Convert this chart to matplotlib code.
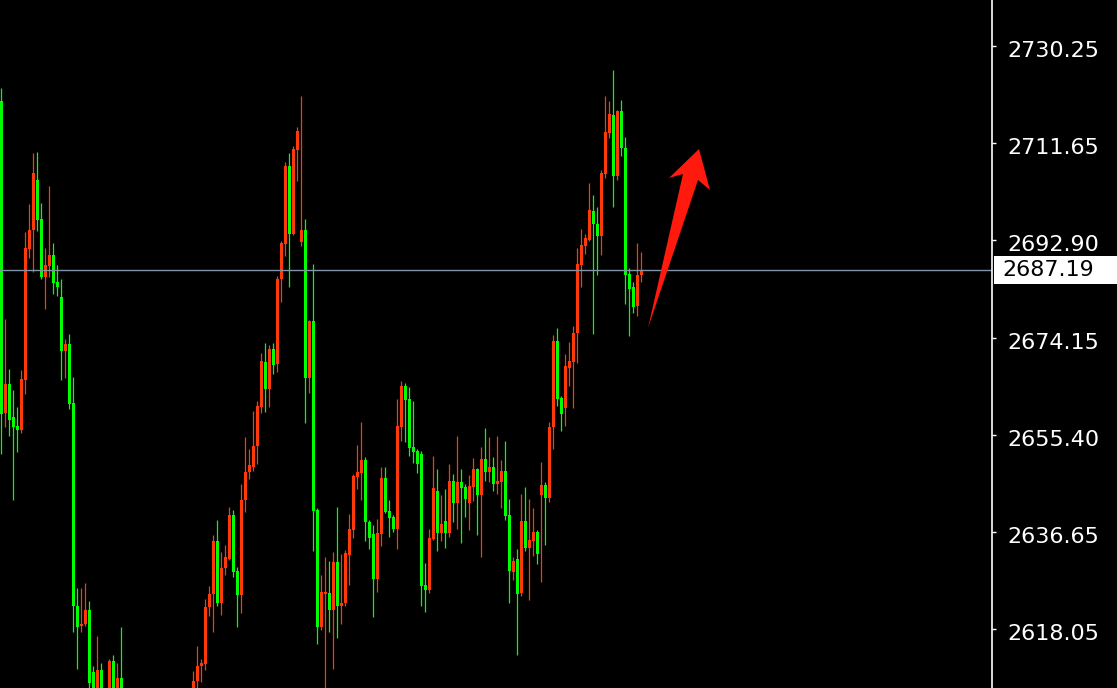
import numpy as np
import matplotlib
matplotlib.use("Agg")
from matplotlib import pyplot as plt
from matplotlib.patches import Polygon, Rectangle
from matplotlib.transforms import ScaledTranslation

nan = np.nan

# OHLC (candles below the visible window are nan)
opens = [2719.6, 2659.6, 2665.2, 2658.9, 2657.2, 2656.3, 2666.0, 2691.2, 2694.8, 2704.5,
         2697.0, 2685.7, 2687.9, 2690.1, 2684.8, 2681.9, 2671.5, 2672.9, 2661.6, 2622.5,
         2618.7, 2619.0, 2621.8, 2609.7, 2603.0, 2610.2, nan, 2603.0, 2611.9, 2603.0,
         2608.7] + [nan] * 17 + [2603.0, 2608.1,
         2610.9, 2611.4, 2622.2, 2624.8, 2634.9, 2623.1, 2629.7, 2631.6, 2639.9, 2629.3,
         2624.6, 2642.8, 2648.2, 2649.3, 2653.2, 2660.8, 2669.5, 2664.2, 2671.9, 2669.1,
         2685.5, 2692.1, 2707.1, 2694.0, 2710.3, 2692.6, 2694.8, 2666.4, 2677.3, 2641.0,
         2618.5, 2624.8, 2625.0, 2621.7, 2631.0, 2622.4, 2623.0, 2632.2, 2637.2, 2647.4,
         2648.1, 2650.6, 2638.7, 2636.4, 2627.7, 2636.4, 2647.2, 2640.7, 2639.6, 2637.3,
         2656.9, 2664.8, 2662.3, 2653.1, 2652.3, 2651.7, 2626.6, 2625.6, 2635.4, 2644.6,
         2636.6, 2638.9, 2636.6, 2646.6, 2642.3, 2646.4, 2645.4, 2642.3, 2645.4, 2648.9,
         2643.9, 2650.7, 2648.2, 2649.2, 2646.0, 2646.3, 2648.4, 2639.9, 2629.0, 2631.5,
         2625.0, 2638.9, 2633.7, 2634.9, 2636.8, 2643.8, 2645.7, 2643.2, 2657.0, 2673.5,
         2662.5, 2660.6, 2668.2, 2669.4, 2675.1, 2688.1, 2691.7, 2692.9, 2698.5, 2695.9,
         2693.7, 2705.6, 2713.6, 2716.9, 2705.3, 2717.8, 2710.7, 2686.3, 2683.9, 2680.2, 2686.1]

highs = [2722.1, 2677.7, 2668.1, 2664.0, 2660.8, 2667.9, 2694.5, 2699.8, 2709.7, 2709.8,
         2700.0, 2691.4, 2703.4, 2692.4, 2688.1, 2685.5, 2673.9, 2674.8, 2666.6, 2626.0,
         2626.0, 2627.0, 2623.4, 2610.9, 2616.7, 2611.5, nan, 2612.3, 2613.1, 2611.5,
         2618.4] + [nan] * 17 + [2610.0, 2614.8,
         2612.3, 2623.9, 2626.4, 2636.2, 2639.0, 2632.9, 2634.3, 2641.6, 2641.0, 2630.0,
         2646.0, 2655.0, 2652.7, 2660.0, 2661.9, 2671.1, 2673.1, 2672.7, 2673.1, 2686.0,
         2692.7, 2708.0, 2709.7, 2711.0, 2714.6, 2720.7, 2697.0, 2677.5, 2688.3, 2641.4,
         2628.4, 2632.0, 2631.2, 2632.9, 2641.6, 2632.5, 2633.3, 2640.2, 2647.8, 2653.5,
         2657.9, 2651.2, 2639.1, 2638.1, 2639.3, 2649.3, 2649.3, 2642.9, 2639.9, 2662.3,
         2665.8, 2665.4, 2664.6, 2661.9, 2652.7, 2652.3, 2630.8, 2637.3, 2651.3, 2648.9,
         2643.9, 2645.0, 2649.9, 2647.8, 2655.2, 2648.9, 2646.0, 2647.7, 2651.0, 2649.0,
         2653.1, 2656.8, 2655.0, 2651.1, 2655.1, 2650.5, 2654.2, 2643.0, 2632.0, 2633.4,
         2644.1, 2645.3, 2643.0, 2641.3, 2637.1, 2650.1, 2646.3, 2657.8, 2674.7, 2676.0,
         2662.8, 2670.9, 2673.2, 2676.3, 2691.4, 2695.0, 2694.0, 2703.9, 2701.5, 2699.3,
         2706.4, 2720.6, 2719.7, 2725.6, 2718.0, 2719.8, 2712.8, 2687.6, 2684.8, 2692.3, 2690.7]

lows = [2651.7, 2656.9, 2655.1, 2642.9, 2652.2, 2655.7, 2663.3, 2689.5, 2686.8, 2694.6,
        2685.5, 2679.7, 2685.7, 2682.5, 2682.2, 2666.0, 2666.4, 2660.4, 2617.4, 2610.3,
        2617.5, 2618.7, 2600.0, 2600.0, 2600.0, 2600.0, nan, 2600.0, 2600.0, 2600.0,
        2600.0] + [nan] * 17 + [2600.0, 2605.0,
        2607.9, 2610.2, 2620.5, 2617.4, 2622.4, 2620.7, 2628.5, 2631.4, 2628.1, 2618.5,
        2621.1, 2640.5, 2646.9, 2648.4, 2649.9, 2659.6, 2659.9, 2660.8, 2667.2, 2667.6,
        2680.9, 2689.9, 2683.9, 2693.9, 2704.3, 2691.8, 2657.7, 2663.4, 2633.1, 2615.2,
        2617.9, 2600.0, 2617.5, 2610.4, 2616.4, 2619.1, 2622.4, 2626.6, 2635.5, 2644.9,
        2642.8, 2635.0, 2633.4, 2620.4, 2625.2, 2634.0, 2640.4, 2635.8, 2636.7, 2633.4,
        2654.3, 2654.0, 2651.3, 2650.0, 2648.1, 2622.5, 2621.4, 2624.9, 2635.1, 2633.1,
        2635.0, 2633.7, 2635.8, 2638.7, 2637.3, 2634.6, 2639.6, 2637.1, 2642.7, 2636.2,
        2631.9, 2646.6, 2646.3, 2644.7, 2644.1, 2641.3, 2639.1, 2623.1, 2627.5, 2613.0,
        2624.4, 2633.0, 2623.6, 2632.1, 2630.6, 2627.1, 2634.2, 2642.4, 2652.6, 2661.0,
        2656.1, 2657.2, 2664.8, 2660.6, 2669.2, 2683.9, 2690.2, 2692.8, 2674.8, 2686.2,
        2690.1, 2704.9, 2712.5, 2699.3, 2704.5, 2709.1, 2680.6, 2674.5, 2678.9, 2678.3, 2684.8]

closes = [2659.4, 2665.2, 2658.3, 2656.9, 2656.3, 2666.2, 2691.4, 2694.8, 2705.8, 2696.8,
          2685.8, 2688.1, 2690.1, 2684.7, 2683.9, 2671.5, 2672.9, 2661.4, 2622.4, 2618.5,
          2619.0, 2621.7, 2607.6, 2603.0, 2610.2, 2603.0, nan, 2611.9, 2603.0, 2608.7,
          2603.0] + [nan] * 17 + [2608.1, 2610.9,
          2611.5, 2622.3, 2624.8, 2634.9, 2623.1, 2629.8, 2632.0, 2639.9, 2629.1, 2624.6,
          2642.9, 2648.3, 2649.6, 2653.3, 2661.0, 2669.6, 2664.2, 2671.9, 2668.9, 2685.5,
          2692.4, 2707.1, 2694.1, 2710.4, 2713.9, 2694.8, 2666.4, 2677.3, 2640.8, 2618.5,
          2625.2, 2625.2, 2621.7, 2631.0, 2622.4, 2623.1, 2632.7, 2637.3, 2647.5, 2648.3,
          2650.6, 2638.7, 2635.5, 2627.7, 2636.6, 2647.2, 2640.6, 2639.4, 2637.3, 2657.2,
          2664.8, 2662.2, 2652.9, 2652.2, 2649.9, 2626.3, 2625.6, 2635.6, 2645.2, 2636.6,
          2638.3, 2636.6, 2646.6, 2642.3, 2646.4, 2645.2, 2643.1, 2645.6, 2648.9, 2643.9,
          2650.7, 2648.3, 2649.3, 2646.0, 2646.5, 2648.4, 2639.8, 2629.2, 2631.2, 2624.7,
          2638.9, 2633.6, 2635.1, 2636.8, 2632.5, 2645.7, 2643.2, 2657.0, 2673.5, 2662.3,
          2659.4, 2668.6, 2669.6, 2675.1, 2688.3, 2692.0, 2693.3, 2698.7, 2695.9, 2693.7,
          2705.8, 2713.7, 2717.2, 2705.3, 2717.8, 2710.7, 2686.1, 2683.5, 2680.0, 2686.2, 2687.19]

tick_values = [2730.25, 2711.65, 2692.90, 2674.15, 2655.40, 2636.65, 2618.05]
last_price = 2687.19

UP = '#ff3a0a'
DOWN = '#00ff00'

fig = plt.figure(figsize=(11.17, 6.88), dpi=100, facecolor='black')
ax = fig.add_axes([0, 0, 992 / 1117, 1])
ax.set_facecolor('black')

o = np.array(opens); h = np.array(highs); l = np.array(lows); c = np.array(closes)
x = np.arange(len(o))
ok = ~np.isnan(o)
up = (c >= o) & ok
dn = (c < o) & ok

for mask, col in [(up, UP), (dn, DOWN)]:
    ax.vlines(x[mask], l[mask], h[mask], color=col, lw=0.9)
    bottom = np.minimum(o[mask], c[mask])
    height = np.maximum(np.abs(c[mask] - o[mask]), 0.25)
    ax.bar(x[mask], height, bottom=bottom, width=0.78, color=col, linewidth=0)

ax.axhline(last_price, color='#8393a8', lw=1.0)

ax.set_xlim(-0.325, 247.675)
ax.set_ylim(2606.7, 2739.1)
ax.set_xticks([])
ax.yaxis.tick_right()
ax.set_yticks(tick_values)
ax.set_yticklabels(['%.2f' % v for v in tick_values])
ax.tick_params(axis='y', colors='white', labelcolor='white', length=3, width=1,
               pad=8, labelsize=16)
# labels sit a few pixels under their tick marks
shift = ScaledTranslation(0, -3 / 100, fig.dpi_scale_trans)
for lab in ax.get_yticklabels():
    lab.set_transform(lab.get_transform() + shift)
for s in ['top', 'left', 'bottom']:
    ax.spines[s].set_visible(False)
ax.spines['right'].set_color('white')
ax.spines['right'].set_linewidth(1.2)

# current price tag on the axis
ytag = ax.transData.transform((0, last_price))[1] / 688
fig.patches.append(Rectangle((994 / 1117, ytag - 14 / 688), 123 / 1117, 28 / 688,
                             transform=fig.transFigure, facecolor='white',
                             edgecolor='none', zorder=5))
fig.text(1002 / 1117, ytag, '%.2f' % last_price, color='black', fontsize=16,
         va='center', ha='left', zorder=6)

# red arrow drawn on the chart
pts = [(699, 149), (710, 190), (698, 180), (648, 328), (683, 174), (669, 178)]
arrow = Polygon([(px / 1117, 1 - py / 688) for px, py in pts], closed=True,
                transform=fig.transFigure, facecolor='#ff1a0d', edgecolor='none', zorder=4)
fig.patches.append(arrow)

fig.savefig('out.png', dpi=100, facecolor='black')
